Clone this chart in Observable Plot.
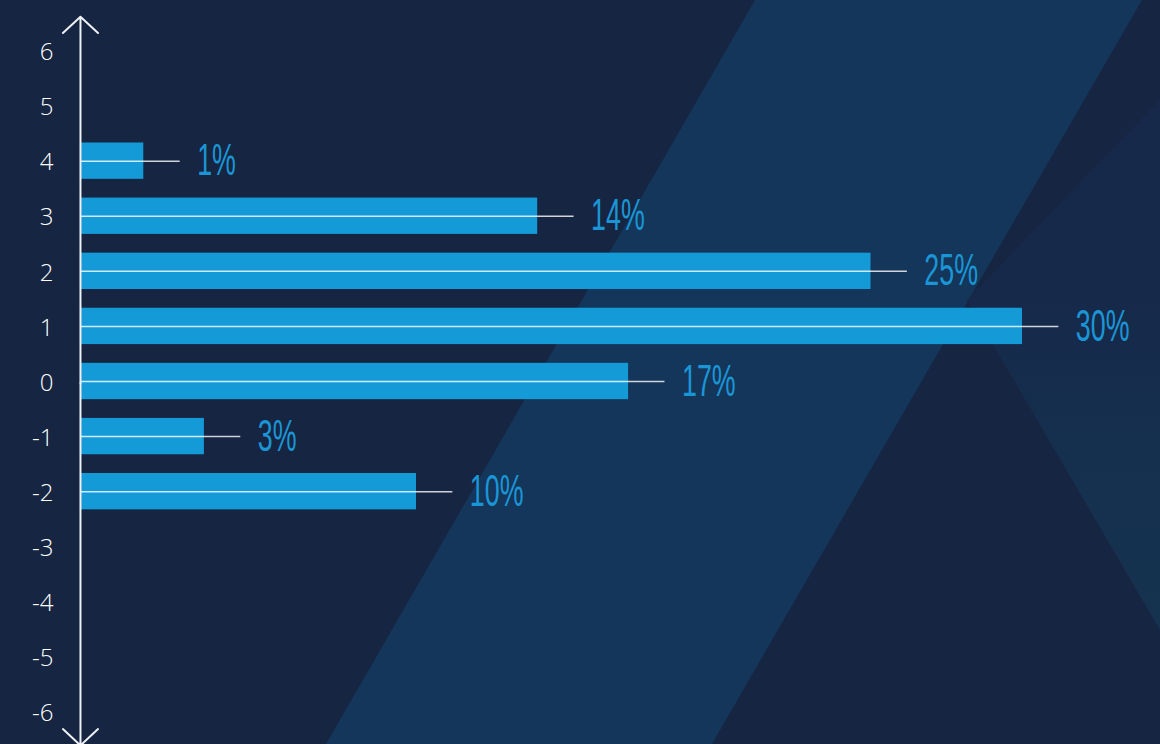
<!DOCTYPE html>
<html><head><meta charset="utf-8">
<script src="https://cdn.jsdelivr.net/npm/d3@7"></script>
<script src="https://cdn.jsdelivr.net/npm/@observablehq/plot@0.6"></script>
<style>
html,body{margin:0;padding:0;background:#162541;overflow:hidden}
#wrap{position:relative;width:1160px;height:744px;overflow:hidden}
.bg{position:absolute;left:0;top:0;width:1160px;height:744px}
#chart{position:absolute;left:0;top:0}
</style></head><body>
<div id="wrap">
<div class="bg" style="background:#14365a;clip-path:polygon(755px 0,1142px 0,712px 744px,326px 744px)"></div>
<div class="bg" style="background:linear-gradient(180deg,#17284a 0%,#16294a 40%,#15314f 65%,#15324f 100%);clip-path:polygon(1160px 100px,967px 300px,1160px 630px)"></div>
<div id="chart"></div>
</div>
<script>
// categories (levels on the vertical axis)
const levels = [4, 3, 2, 1, 0, -1, -2];
// series values (percent)
const shares = [1, 14, 25, 30, 17, 3, 10];
// value labels
const labels = ["1%", "14%", "25%", "30%", "17%", "3%", "10%"];
// tick labels on the vertical axis
const tickValues = [6, 5, 4, 3, 2, 1, 0, -1, -2, -3, -4, -5, -6];

const axisOrigin = -1.09;   // x value where the vertical axis sits
const halfBar = 0.33;
const leaderExtra = 1.2;

const data = levels.map((level, i) => ({level, share: shares[i], label: labels[i]}));

const chart = Plot.plot({
  width: 1160,
  height: 744,
  marginLeft: 113,
  marginRight: 138,
  marginTop: 52,
  marginBottom: 31,
  style: {background: "transparent", fontFamily: "'Open Sans', sans-serif", overflow: "visible"},
  x: {domain: [0, 30], axis: null},
  y: {domain: [-6, 6], axis: null},
  marks: [
    Plot.rectX(data, {
      x1: axisOrigin, x2: "share",
      y1: d => d.level - halfBar, y2: d => d.level + halfBar,
      fill: "#159ad8", dy: -1.5
    }),
    Plot.ruleY(data, {
      y: "level", x1: axisOrigin, x2: d => d.share + leaderExtra,
      stroke: "#ffffff", strokeOpacity: 0.8, strokeWidth: 1.5, dy: -1.5
    }),
    Plot.text(data, {
      x: d => d.share + leaderExtra, y: "level", text: "label",
      dx: 17, dy: -1.5, textAnchor: "start", fill: "#1b95d5",
      fontSize: 44, fontFamily: "'Liberation Sans Narrow', 'Liberation Sans', sans-serif",
      className: "pct"
    }),
    Plot.arrow([{y1: 0, y2: 6.65}, {y1: 0, y2: -6.58}], {
      x1: axisOrigin, x2: axisOrigin, y1: "y1", y2: "y2",
      stroke: "#eef1f5", strokeWidth: 2, headLength: 18, headAngle: 94
    }),
    // vertical axis tick labels
    Plot.text(tickValues, {
      x: axisOrigin, y: d => d, text: d => String(d),
      dx: -27, textAnchor: "end", fill: "#ffffff",
      fontSize: 24, fontWeight: 300, fontFamily: "'Open Sans', sans-serif"
    })
  ]
});
document.getElementById("chart").appendChild(chart);
chart.querySelectorAll(".pct text").forEach(el => {
  const t = el.getAttribute("transform") || "";
  el.setAttribute("transform", t + " scale(0.61,1)");
});
</script>
</body></html>
